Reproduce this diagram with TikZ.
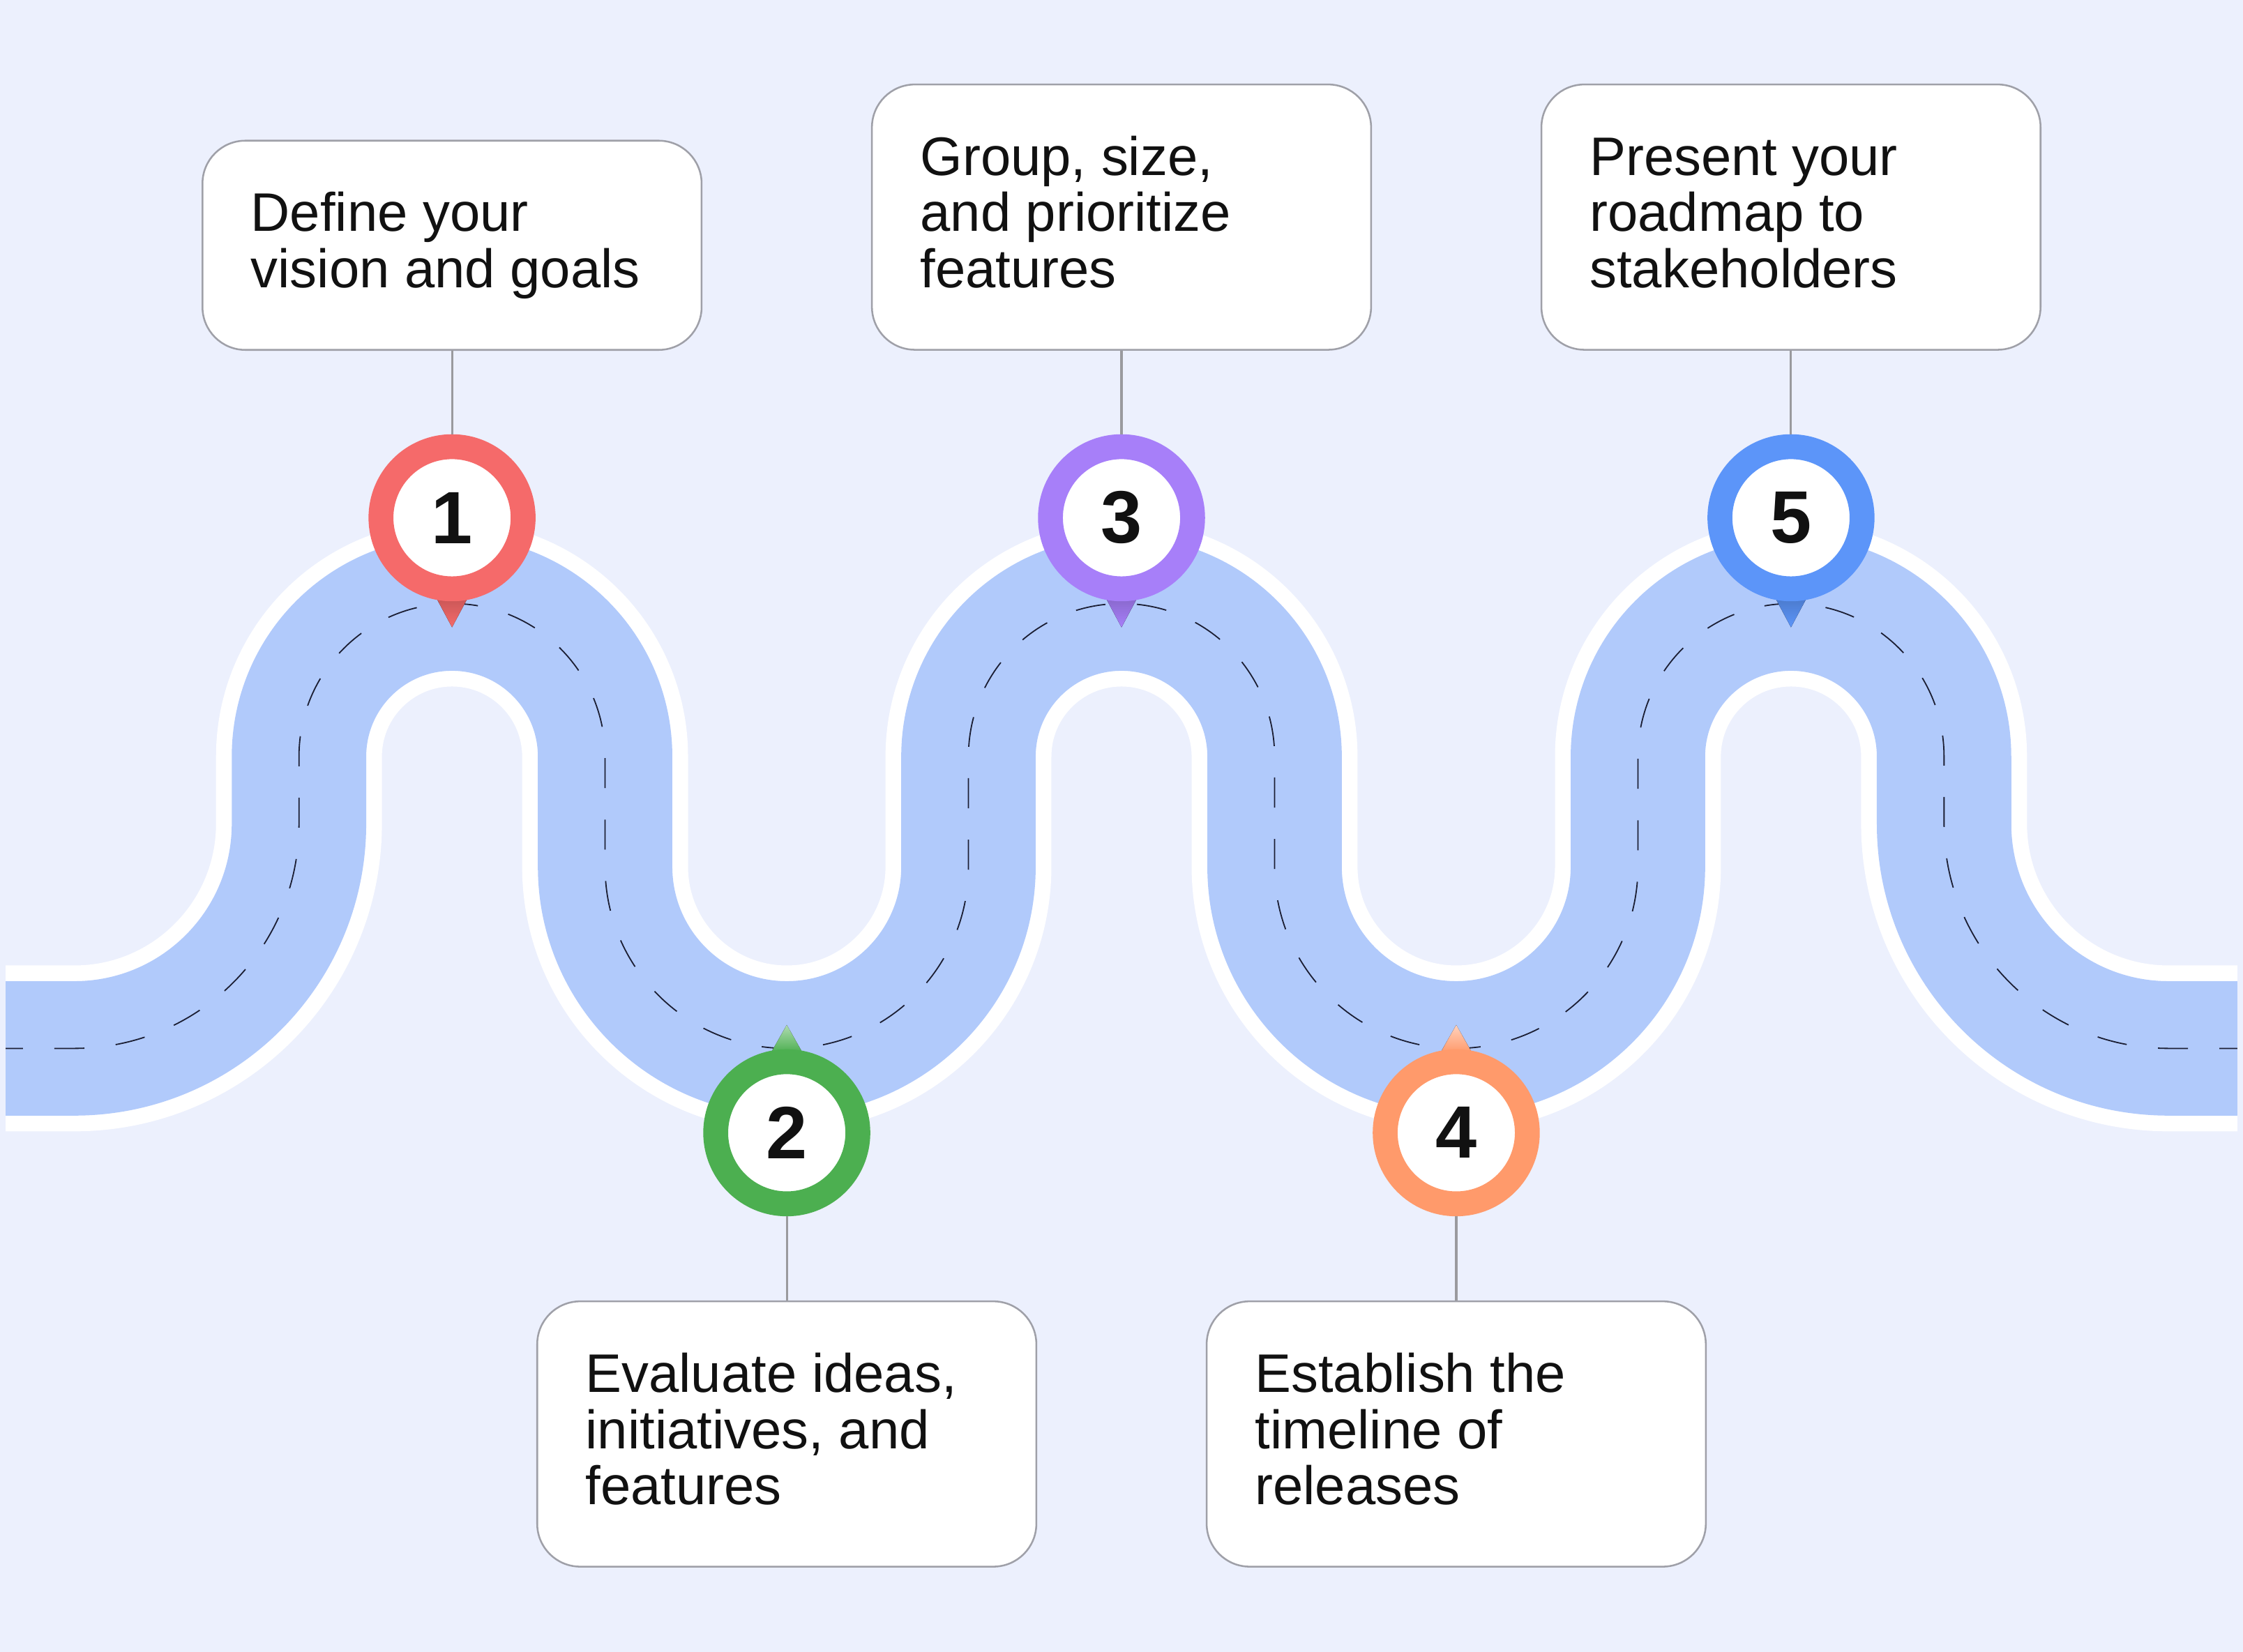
\documentclass[tikz,border=0pt]{standalone}
\usepackage{fontspec}
\setmainfont{Liberation Sans}
\definecolor{bgc}{HTML}{ECF0FD}
\definecolor{roadc}{HTML}{B1CAFB}
\definecolor{dashc}{HTML}{1B1E33}
\definecolor{boxline}{HTML}{9FA0A8}
\definecolor{conn}{HTML}{9A9A9E}
\definecolor{txt}{HTML}{111111}
\definecolor{pinA}{HTML}{F56A6A}
\definecolor{pinB}{HTML}{4CAF50}
\definecolor{pinC}{HTML}{A77FF9}
\definecolor{pinD}{HTML}{FF9A6B}
\definecolor{pinE}{HTML}{5C95F9}
\tikzset{
  infobox/.style={draw=boxline, line width=0.7pt, fill=white, rounded corners=0.6cm,
    minimum width=6.98cm, inner sep=0pt},
  stopdot/.style={circle, draw=#1, fill=white, line width=0.348cm, minimum size=1.988cm,
    inner sep=0pt, text=txt, font=\fontsize{29.5}{30}\selectfont\bfseries},
  steptext/.style={anchor=base west, inner sep=0pt, text=txt, font=\fontsize{21.6}{24}\selectfont},
  link/.style={draw=conn, line width=0.85pt},
  downtip/.style={top color=#1!82!black, bottom color=#1},
  uptip/.style={top color=#1!45!white, bottom color=#1},
}
\begin{document}
\begin{tikzpicture}[x=0.02cm, y=-0.02cm]
\fill[bgc] (0,0) rectangle (1568,1155);
\useasboundingbox (0,0) rectangle (1568,1155);

% road
\draw[white, line width=2.32cm, line cap=butt,
  postaction={draw=roadc, line width=1.88cm},
  postaction={draw=dashc, line width=0.5pt, dash pattern=on 0.42cm off 0.44cm, dash phase=0.18cm}]
  (4,733) -- (52,733)
  arc[start angle=90, end angle=0, radius=157] -- (209,529)
  arc[start angle=180, end angle=360, radius=107] -- (423,606)
  arc[start angle=180, end angle=0, radius=127] -- (677,529)
  arc[start angle=180, end angle=360, radius=107] -- (891,606)
  arc[start angle=180, end angle=0, radius=127] -- (1145,529)
  arc[start angle=180, end angle=360, radius=107] -- (1359,576)
  arc[start angle=180, end angle=90, radius=157] -- (1564,733);

% pointers
\fill[downtip=pinA] (305,418) -- (327,418) -- (316,438.6) -- cycle;
\fill[downtip=pinC] (773,418) -- (795,418) -- (784,438.6) -- cycle;
\fill[downtip=pinE] (1241,418) -- (1263,418) -- (1252,438.6) -- cycle;
\fill[uptip=pinB] (539,736) -- (561,736) -- (550,716.6) -- cycle;
\fill[uptip=pinD] (1007,736) -- (1029,736) -- (1018,716.6) -- cycle;

% stops
\node[stopdot=pinA] (p1) at (316,362) {1};
\node[stopdot=pinB] (p2) at (550,792) {2};
\node[stopdot=pinC] (p3) at (784,362) {3};
\node[stopdot=pinD] (p4) at (1018,792) {4};
\node[stopdot=pinE] (p5) at (1252,362) {5};

% boxes
\node[infobox, minimum height=2.926cm] (b1) at (316,171.5) {};
\node[infobox, minimum height=3.71cm] (b3) at (784,151.8) {};
\node[infobox, minimum height=3.71cm] (b5) at (1252,151.8) {};
\node[infobox, minimum height=3.71cm] (b2) at (550,1002.6) {};
\node[infobox, minimum height=3.71cm] (b4) at (1018,1002.6) {};

% texts
\node[steptext] (t1a) at (175,161.7) {Define your};
\node[steptext] (t1b) at (175,201.0) {vision and goals};

\node[steptext] (t3a) at (643,122.5) {Group, size,};
\node[steptext] (t3b) at (643,161.8) {and prioritize};
\node[steptext] (t3c) at (643,201.1) {features};

\node[steptext] (t5a) at (1111,122.5) {Present your};
\node[steptext] (t5b) at (1111,161.8) {roadmap to};
\node[steptext] (t5c) at (1111,201.1) {stakeholders};

\node[steptext] (t2a) at (409,973.4) {Evaluate ideas,};
\node[steptext] (t2b) at (409,1012.7) {initiatives, and};
\node[steptext] (t2c) at (409,1052.0) {features};

\node[steptext] (t4a) at (877,973.4) {Establish the};
\node[steptext] (t4b) at (877,1012.7) {timeline of};
\node[steptext] (t4c) at (877,1052.0) {releases};

% connectors
\draw[link] (b1.south) -- (p1.north);
\draw[link] (b3.south) -- (p3.north);
\draw[link] (b5.south) -- (p5.north);
\draw[link] (p2.south) -- (b2.north);
\draw[link] (p4.south) -- (b4.north);
\end{tikzpicture}
\end{document}
